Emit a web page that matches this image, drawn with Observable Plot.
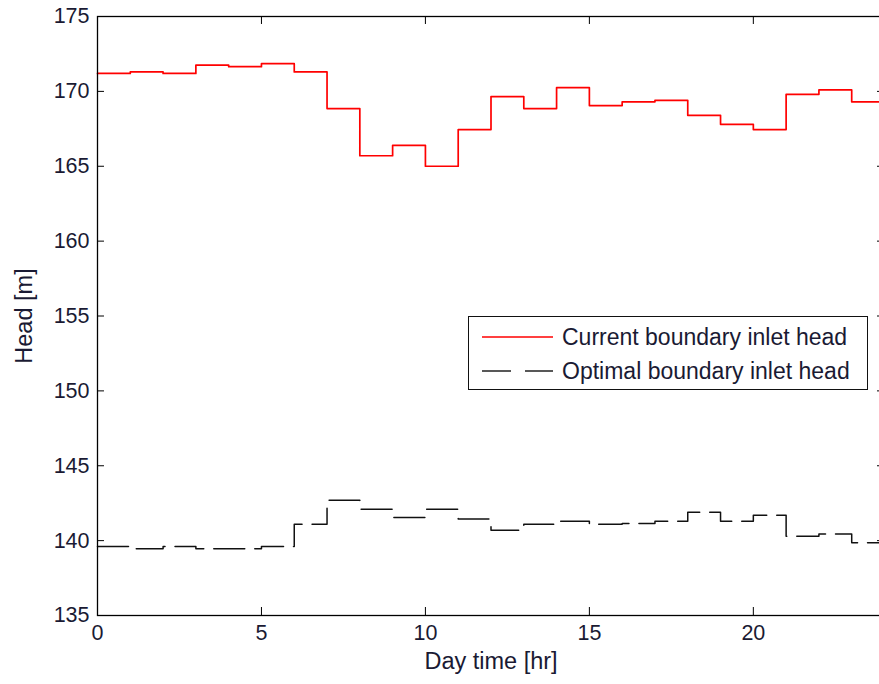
<!DOCTYPE html>
<html><head><meta charset="utf-8">
<script src="https://cdn.jsdelivr.net/npm/d3@7"></script>
<script src="https://cdn.jsdelivr.net/npm/@observablehq/plot@0.6"></script>
<style>
html,body{margin:0;padding:0;background:#fff;overflow:hidden;}
#wrap{position:relative;width:879px;height:684px;overflow:hidden;}
#wrap svg{max-width:none;}
#legend{position:absolute;left:468px;top:316px;width:400px;height:74px;border:1px solid #111;background:#fff;box-sizing:border-box;font-family:"Liberation Sans",Arial,sans-serif;font-size:23px;color:#1a1a33;}
#legend .row{position:absolute;left:0;height:26px;line-height:26px;white-space:nowrap;}
#legend svg{position:absolute;left:13px;top:0;}
#legend span{position:absolute;left:93px;top:0;}
</style></head><body><div id="wrap"><div id="legend"></div></div>
<script>
const hours = [0,1,2,3,4,5,6,7,8,9,10,11,12,13,14,15,16,17,18,19,20,21,22,23];
const currentHead = [171.2,171.3,171.2,171.75,171.65,171.85,171.3,168.85,165.7,166.4,165.0,167.45,169.65,168.85,170.25,169.05,169.3,169.4,168.4,167.8,167.45,169.8,170.1,169.3];
const optimalHead = [139.6,139.45,139.6,139.45,139.45,139.6,141.1,142.7,142.1,141.55,142.1,141.45,140.7,141.1,141.3,141.1,141.15,141.3,141.9,141.3,141.7,140.3,140.45,139.85];
const xTicks = [0,5,10,15,20];
const yTicks = [135,140,145,150,155,160,165,170,175];
const seriesNames = ["Current boundary inlet head","Optimal boundary inlet head"];
const xLabel = "Day time [hr]";
const yLabel = "Head [m]";

// step-after needs a closing point at the end of the last hour
const stepData = (vals) => hours.map((h,i)=>({h, v: vals[i]})).concat([{h: hours[hours.length-1]+1, v: vals[vals.length-1]}]);
const cur = stepData(currentHead);
const opt = stepData(optimalHead);

const xMin = 0, xMax = 24, yMin = 135, yMax = 175;
const tickLenY = 8/15;   // inward tick length on x axes (in y units)
const tickLenX = 7/32.8; // inward tick length on y axes (in x units)

const chart = Plot.plot({
  width: 886, height: 684,
  marginLeft: 97, marginRight: 2, marginTop: 16, marginBottom: 69,
  style: {fontFamily: "Liberation Sans, Arial, sans-serif", fontSize: "22px", color: "#1a1a33", background: "#fff"},
  x: {domain: [xMin, xMax]},
  y: {domain: [yMin, yMax]},
  marks: [
    Plot.line(cur, {x: "h", y: "v", curve: "step-after", stroke: "#ff0000", strokeWidth: 1.7}),
    Plot.line(opt, {x: "h", y: "v", curve: "step-after", stroke: "#111", strokeWidth: 1.5, strokeDasharray: "31,10"}),
    Plot.ruleX(xTicks, {x: d => d, y1: yMin, y2: yMin + tickLenY, stroke: "#000"}),
    Plot.ruleX(xTicks, {x: d => d, y1: yMax, y2: yMax - tickLenY, stroke: "#000"}),
    Plot.ruleY(yTicks, {y: d => d, x1: xMin, x2: xMin + tickLenX, stroke: "#000"}),
    Plot.ruleY(yTicks, {y: d => d, x1: xMax, x2: xMax - tickLenX, stroke: "#000"}),
    Plot.frame({stroke: "#000", strokeWidth: 1.3}),
    Plot.axisX({ticks: xTicks, tickSize: 0, tickPadding: 9, label: xLabel, labelAnchor: "center", labelArrow: "none", labelOffset: 53, fontSize: 21.5}),
    Plot.axisY({ticks: yTicks, tickSize: 0, tickPadding: 8, label: yLabel, labelAnchor: "center", labelArrow: "none", labelOffset: 82, fontSize: 21.5})
  ]
});
const wrap = document.getElementById("wrap");
wrap.insertBefore(chart, wrap.firstChild);
// axis titles slightly larger than tick labels
chart.querySelectorAll("g[aria-label='x-axis label'] text, g[aria-label='y-axis label'] text").forEach(t => t.setAttribute("font-size", "23.5"));

const legend = document.getElementById("legend");
const styles = [{stroke: "#ff0000", dash: null}, {stroke: "#222", dash: "29,14"}];
const tops = [7, 41];
seriesNames.forEach((name, i) => {
  const row = document.createElement("div");
  row.className = "row";
  row.style.top = tops[i] + "px";
  row.style.width = "390px";
  row.innerHTML = `<svg width="72" height="26"><line x1="0" x2="71" y1="13" y2="13" stroke="${styles[i].stroke}" stroke-width="1.5" ${styles[i].dash ? `stroke-dasharray="${styles[i].dash}"` : ""}/></svg><span>${name}</span>`;
  legend.appendChild(row);
});
</script>
</body></html>
